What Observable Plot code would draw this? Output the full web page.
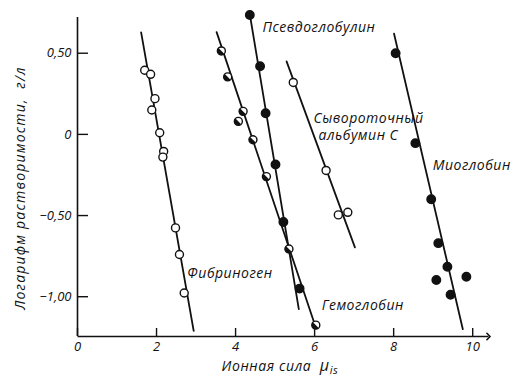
<!DOCTYPE html>
<html><head><meta charset="utf-8">
<script src="https://cdn.jsdelivr.net/npm/d3@7"></script>
<script src="https://cdn.jsdelivr.net/npm/@observablehq/plot@0.6"></script>
<style>
body{margin:0;background:#fff}
</style></head><body><div id="chart"></div>
<script>
// Fibrinogen (open circles)
const fibX = [1.70, 1.85, 1.96, 1.88, 2.08, 2.18, 2.16, 2.48, 2.58, 2.70];
const fibY = [0.395, 0.37, 0.22, 0.15, 0.01, -0.105, -0.14, -0.576, -0.74, -0.977];
const fibLineX = [1.61, 2.94];
const fibLineY = [0.628, -1.21];
// Hemoglobin (half-filled circles)
const hemX = [3.64, 3.80, 4.19, 4.07, 4.44, 4.78, 5.35, 6.03];
const hemY = [0.514, 0.354, 0.142, 0.08, -0.033, -0.26, -0.706, -1.175];
const hemLineX = [3.52, 6.03];
const hemLineY = [0.63, -1.19];
// Pseudoglobulin (filled)
const psX = [4.36, 4.62, 4.76, 5.01, 5.21, 5.62];
const psY = [0.735, 0.42, 0.13, -0.185, -0.54, -0.95];
const psLineX = [4.36, 5.60];
const psLineY = [0.74, -1.076];
// Serum albumin C (open circles)
const albX = [5.46, 6.29, 6.60, 6.84];
const albY = [0.32, -0.222, -0.496, -0.48];
const albLineX = [5.29, 7.02];
const albLineY = [0.45, -0.696];
// Myoglobin (filled)
const myoX = [8.05, 8.55, 8.95, 9.13, 9.36, 9.08, 9.84, 9.44];
const myoY = [0.50, -0.054, -0.40, -0.67, -0.815, -0.897, -0.877, -0.988];
const myoLineX = [8.01, 9.75];
const myoLineY = [0.62, -1.20];

const xTicks = [0, 2, 4, 6, 8, 10];
const xTickLabels = ["0", "2", "4", "6", "8", "10"];
const yTicks = [-1, -0.5, 0, 0.5];
const yTickLabels = ["\u22121,00", "\u22120,50", "0", "0,50"];

const labelText = ["Псевдоглобулин", "Сывороточный", "альбумин С", "Миоглобин", "Фибриноген", "Гемоглобин"];
const labelX = [4.68, 5.97, 6.10, 8.99, 2.78, 6.18];
const labelY = [0.66, 0.10, -0.006, -0.19, -0.858, -1.056];

const xTitle = "Ионная сила";
const xTitleSym = "\u03bc";
const xTitleSub = "is";
const yTitle = "Логарифм растворимости,  г/л";

const xDomain = [0, 10.4];
const yDomain = [-1.245, 0.72];

const pts = (xs, ys, s) => xs.map((x, i) => ({x, y: ys[i], s}));
const openPts = [...pts(fibX, fibY, "fib"), ...pts(albX, albY, "alb")];
const halfPts = pts(hemX, hemY, "hem");
const fillPts = [...pts(psX, psY, "ps"), ...pts(myoX, myoY, "myo")];
const lines = [
  ...pts(fibLineX, fibLineY, "fib"),
  ...pts(hemLineX, hemLineY, "hem"),
  ...pts(psLineX, psLineY, "ps"),
  ...pts(albLineX, albLineY, "alb"),
  ...pts(myoLineX, myoLineY, "myo")
];
const labels = labelText.map((t, i) => ({t, x: labelX[i], y: labelY[i]}));

const halfSymbol = {
  draw(context, size) {
    const r = Math.sqrt(size / Math.PI);
    context.moveTo(r * Math.cos(Math.PI / 4), r * Math.sin(Math.PI / 4));
    context.arc(0, 0, r, Math.PI / 4, Math.PI / 4 + Math.PI);
    context.closePath();
  }
};

const plot = Plot.plot({
  width: 518,
  height: 379,
  marginLeft: 77,
  marginRight: 30,
  marginTop: 17,
  marginBottom: 43,
  style: {fontFamily: "'Open Sans', 'DejaVu Sans', sans-serif", fontStyle: "italic", fontSize: "13px", background: "#fff"},
  x: {domain: xDomain},
  y: {domain: yDomain},
  marks: [
    Plot.ruleX([0], {stroke: "#111", strokeWidth: 1.6}),
    Plot.link([0], {x1: () => xDomain[0], x2: () => xDomain[1], y1: () => yDomain[0], y2: () => yDomain[0], stroke: "#111", strokeWidth: 1.6, markerEnd: "arrow"}),
    Plot.axisX({ticks: xTicks, tickFormat: (d, i) => xTickLabels[i], tickSize: -8, tickPadding: 13, fontSize: 13, label: null, stroke: "#111", strokeWidth: 1.4, color: "#111"}),
    Plot.axisY({ticks: yTicks, tickFormat: (d, i) => yTickLabels[i], tickSize: -11, tickPadding: 17, fontSize: 13, label: null, stroke: "#111", strokeWidth: 1.4, color: "#111"}),
    Plot.line(lines, {x: "x", y: "y", z: "s", stroke: "#111", strokeWidth: 1.8}),
    Plot.dot(openPts, {x: "x", y: "y", r: 4, fill: "#fff", stroke: "#111", strokeWidth: 1.4}),
    Plot.dot(halfPts, {x: "x", y: "y", r: 4, fill: "#fff", stroke: "#111", strokeWidth: 1.4}),
    Plot.dot(halfPts, {x: "x", y: "y", r: 4, symbol: halfSymbol, fill: "#111", stroke: "none"}),
    Plot.dot(fillPts, {x: "x", y: "y", r: 4.2, fill: "#111", stroke: "#111"}),
    Plot.text(labels, {x: "x", y: "y", text: "t", textAnchor: "start", fontSize: 14, fill: "#111"})
  ]
});

const svg = d3.select(plot);
svg.selectAll("g[aria-label='text'] text").attr("letter-spacing", 0.5);
svg.append("text")
  .attr("transform", "translate(21,188) rotate(-90)")
  .attr("text-anchor", "middle")
  .attr("dominant-baseline", "middle")
  .style("font-size", "14px")
  .attr("letter-spacing", 1.2)
  .attr("fill", "#111")
  .text(yTitle);
const xt = svg.append("text")
  .attr("x", 280)
  .attr("y", 371)
  .attr("text-anchor", "middle")
  .style("font-size", "14px")
  .attr("letter-spacing", 0.6)
  .attr("fill", "#111");
xt.append("tspan").text(xTitle + "  ");
xt.append("tspan").style("font-size", "16px").text(xTitleSym);
xt.append("tspan").attr("dy", 3).style("font-size", "11px").text(xTitleSub);

document.getElementById("chart").appendChild(plot);
</script></body></html>
